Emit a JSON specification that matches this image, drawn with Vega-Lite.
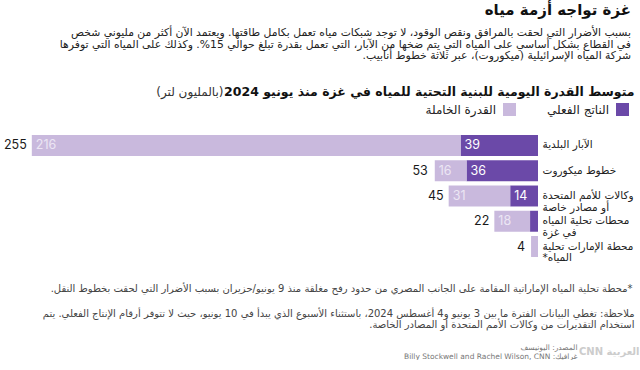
{
  "$schema": "https://vega.github.io/schema/vega-lite/v6.json",
  "width": 531,
  "height": 126,
  "padding": {"left": 3, "top": 3, "right": 2, "bottom": 0},
  "background": "white",
  "config": {"view": {"stroke": null}, "font": "DejaVu Sans"},
  "title": {
    "text": "\u202bغزة تواجه أزمة مياه\u202c",
    "subtitle": [
      "\u202bبسبب الأضرار التي لحقت بالمرافق ونقص الوقود، لا توجد شبكات مياه تعمل بكامل طاقتها. ويعتمد الآن أكثر من مليوني شخص\u202c",
      "\u202bفي القطاع بشكل أساسي على المياه التي يتم ضخها من الآبار، التي تعمل بقدرة تبلغ حوالي 15%. وكذلك على المياه التي توفرها\u202c",
      "\u202bشركة المياه الإسرائيلية (ميكوروت)، عبر ثلاثة خطوط أنابيب.\u202c"
    ],
    "anchor": "end",
    "frame": "bounds",
    "dx": -8,
    "font": "DejaVu Sans",
    "fontSize": 15,
    "fontWeight": "bold",
    "color": "#111111",
    "subtitleFont": "DejaVu Sans",
    "subtitleFontSize": 10.8,
    "subtitleColor": "#222222",
    "subtitleLineHeight": 11.5,
    "subtitlePadding": 9,
    "offset": 24
  },
  "datasets": {
    "seg": [
      {"cat": "الآبار البلدية", "kind": "الناتج الفعلي", "v": 39},
      {"cat": "الآبار البلدية", "kind": "القدرة الخاملة", "v": 216},
      {"cat": "خطوط ميكوروت", "kind": "الناتج الفعلي", "v": 36},
      {"cat": "خطوط ميكوروت", "kind": "القدرة الخاملة", "v": 16},
      {"cat": "وكالات للأمم المتحدة أو مصادر خاصة", "kind": "الناتج الفعلي", "v": 14},
      {"cat": "وكالات للأمم المتحدة أو مصادر خاصة", "kind": "القدرة الخاملة", "v": 31},
      {"cat": "محطات تحلية المياه في غزة", "kind": "الناتج الفعلي", "v": 4},
      {"cat": "محطات تحلية المياه في غزة", "kind": "القدرة الخاملة", "v": 18},
      {"cat": "محطة الإمارات تحلية المياه*", "kind": "الناتج الفعلي", "v": 0},
      {"cat": "محطة الإمارات تحلية المياه*", "kind": "القدرة الخاملة", "v": 3.5}
    ],
    "tot": [
      {"cat": "الآبار البلدية", "total": 255},
      {"cat": "خطوط ميكوروت", "total": 53},
      {"cat": "وكالات للأمم المتحدة أو مصادر خاصة", "total": 45},
      {"cat": "محطات تحلية المياه في غزة", "total": 22},
      {"cat": "محطة الإمارات تحلية المياه*", "total": 4}
    ]
  },
  "resolve": {"axis": {"x": "independent", "y": "independent"}},
  "layer": [
    {
      "data": {"name": "seg"},
      "transform": [
        {"stack": "v", "groupby": ["cat"], "sort": [{"field": "kind", "order": "descending"}], "as": ["v0", "v1"]}
      ],
      "mark": {"type": "bar"},
      "encoding": {
        "y": {
          "field": "cat", "type": "nominal",
          "sort": ["الآبار البلدية", "خطوط ميكوروت", "وكالات للأمم المتحدة أو مصادر خاصة", "محطات تحلية المياه في غزة", "محطة الإمارات تحلية المياه*"],
          "scale": {"paddingInner": 0.17, "paddingOuter": 0.08},
          "axis": {
            "orient": "right", "title": null, "ticks": false, "domain": false, "grid": false,
            "labelPadding": 4, "labelFont": "DejaVu Sans", "labelFontSize": 10.5, "labelColor": "#222222",
            "labelLineHeight": 11.5, "labelBaseline": "middle", "labelLimit": 220,
            "labelExpr": "datum.value == 'وكالات للأمم المتحدة أو مصادر خاصة' ? ['وكالات للأمم المتحدة', 'أو مصادر خاصة'] : datum.value == 'محطات تحلية المياه في غزة' ? ['محطات تحلية المياه', 'في غزة'] : datum.value == 'محطة الإمارات تحلية المياه*' ? ['محطة الإمارات تحلية', '\u202bالمياه*\u202c'] : datum.value"
          }
        },
        "x": {
          "field": "v0", "type": "quantitative",
          "scale": {"domain": [0, 267.5], "reverse": true, "nice": false, "zero": true},
          "axis": {
            "orient": "top", "labels": false, "ticks": false, "domain": false, "grid": false,
            "title": "\u202bمتوسط القدرة اليومية للبنية التحتية للمياه في غزة منذ يونيو 2024\u202c",
            "titleX": 627, "titleY": -38, "titleAlign": "right", "titleBaseline": "alphabetic", "titleAngle": 0,
            "titleFont": "DejaVu Sans", "titleFontSize": 12.5, "titleFontWeight": "bold", "titleColor": "#111111"
          }
        },
        "x2": {"field": "v1"},
        "color": {
          "field": "kind", "type": "nominal",
          "scale": {"domain": ["القدرة الخاملة", "الناتج الفعلي"], "range": ["#c9b9dd", "#6b49a8"]},
          "legend": {
            "orient": "none", "legendX": 496, "legendY": -30, "direction": "horizontal", "title": null,
            "symbolType": "square", "symbolSize": 169, "symbolStrokeWidth": 0, "symbolOpacity": 1,
            "labelFont": "DejaVu Sans", "labelFontSize": 12, "labelColor": "#222222",
            "labelAlign": "right", "labelOffset": -20, "columnPadding": 31
          }
        }
      }
    },
    {
      "data": {"name": "seg"},
      "transform": [
        {"stack": "v", "groupby": ["cat"], "sort": [{"field": "kind", "order": "descending"}], "as": ["v0", "v1"]},
        {"filter": "datum.kind == 'الناتج الفعلي' && datum.v >= 10"}
      ],
      "mark": {"type": "text", "align": "left", "dx": 4, "baseline": "middle", "font": "Inter", "fontSize": 12.5, "color": "#ffffff"},
      "encoding": {
        "y": {
          "field": "cat", "type": "nominal",
          "sort": ["الآبار البلدية", "خطوط ميكوروت", "وكالات للأمم المتحدة أو مصادر خاصة", "محطات تحلية المياه في غزة", "محطة الإمارات تحلية المياه*"],
          "axis": {
            "orient": "left", "labels": false, "ticks": false, "domain": false, "grid": false,
            "title": [
              "\u202bملاحظة: تغطي البيانات الفترة ما بين 3 يونيو و4 أغسطس 2024، باستثناء الأسبوع الذي يبدأ في 10 يونيو، حيث لا تتوفر أرقام الإنتاج الفعلي. يتم\u202c",
              "\u202bاستخدام التقديرات من وكالات الأمم المتحدة أو المصادر الخاصة.\u202c"
            ],
            "titleAngle": 0, "titleX": 627, "titleY": 183, "titleAlign": "right", "titleBaseline": "alphabetic",
            "titleFont": "DejaVu Sans", "titleFontSize": 10, "titleFontWeight": "normal", "titleColor": "#444444", "titleLineHeight": 11
          }
        },
        "x": {
          "field": "v1", "type": "quantitative",
          "axis": {
            "orient": "top", "labels": false, "ticks": false, "domain": false, "grid": false,
            "title": "\u202b(بالمليون لتر)\u202c",
            "titleX": 216, "titleY": -38, "titleAlign": "right", "titleBaseline": "alphabetic", "titleAngle": 0,
            "titleFont": "DejaVu Sans", "titleFontSize": 12, "titleFontWeight": "normal", "titleColor": "#333333"
          }
        },
        "text": {"field": "v", "type": "quantitative"}
      }
    },
    {
      "data": {"name": "seg"},
      "transform": [
        {"stack": "v", "groupby": ["cat"], "sort": [{"field": "kind", "order": "descending"}], "as": ["v0", "v1"]},
        {"filter": "datum.kind == 'القدرة الخاملة' && datum.v >= 10"}
      ],
      "mark": {"type": "text", "align": "left", "dx": 4, "baseline": "middle", "font": "Inter", "fontSize": 12.5, "color": "#ece6f4"},
      "encoding": {
        "y": {
          "field": "cat", "type": "nominal",
          "sort": ["الآبار البلدية", "خطوط ميكوروت", "وكالات للأمم المتحدة أو مصادر خاصة", "محطات تحلية المياه في غزة", "محطة الإمارات تحلية المياه*"],
          "axis": {
            "orient": "left", "labels": false, "ticks": false, "domain": false, "grid": false,
            "title": "\u202bالعربية CNN\u202c",
            "titleAngle": 0, "titleX": 632, "titleY": 221, "titleAlign": "right", "titleBaseline": "alphabetic",
            "titleFont": "DejaVu Sans", "titleFontSize": 10, "titleFontWeight": "bold", "titleColor": "#cccccc"
          }
        },
        "x": {
          "field": "v1", "type": "quantitative",
          "axis": {
            "orient": "bottom", "labels": false, "ticks": false, "domain": false, "grid": false,
            "title": "\u202b*محطة تحلية المياه الإماراتية المقامة على الجانب المصري من حدود رفح مغلقة منذ 9 يونيو/حزيران بسبب الأضرار التي لحقت بخطوط النقل.\u202c",
            "titleX": 625, "titleY": 32, "titleAlign": "right", "titleBaseline": "alphabetic", "titleAngle": 0,
            "titleFont": "DejaVu Sans", "titleFontSize": 10, "titleFontWeight": "normal", "titleColor": "#444444"
          }
        },
        "text": {"field": "v", "type": "quantitative"}
      }
    },
    {
      "data": {"name": "tot"},
      "mark": {"type": "text", "align": "right", "dx": -5, "baseline": "middle", "font": "Inter", "fontSize": 12.5, "color": "#1a1a1a"},
      "encoding": {
        "y": {
          "field": "cat", "type": "nominal",
          "sort": ["الآبار البلدية", "خطوط ميكوروت", "وكالات للأمم المتحدة أو مصادر خاصة", "محطات تحلية المياه في غزة", "محطة الإمارات تحلية المياه*"],
          "axis": null
        },
        "x": {
          "field": "total", "type": "quantitative",
          "axis": {
            "orient": "bottom", "labels": false, "ticks": false, "domain": false, "grid": false,
            "title": ["\u202bالمصدر: اليونيسف\u202c", "\u202bغرافيك: Billy Stockwell and Rachel Wilson, CNN\u202c"],
            "titleX": 570, "titleY": 90, "titleAlign": "right", "titleBaseline": "alphabetic", "titleAngle": 0, "titleLineHeight": 9,
            "titleFont": "DejaVu Sans", "titleFontSize": 7.5, "titleFontWeight": "normal", "titleColor": "#777777"
          }
        },
        "text": {"field": "total", "type": "quantitative"}
      }
    }
  ]
}
